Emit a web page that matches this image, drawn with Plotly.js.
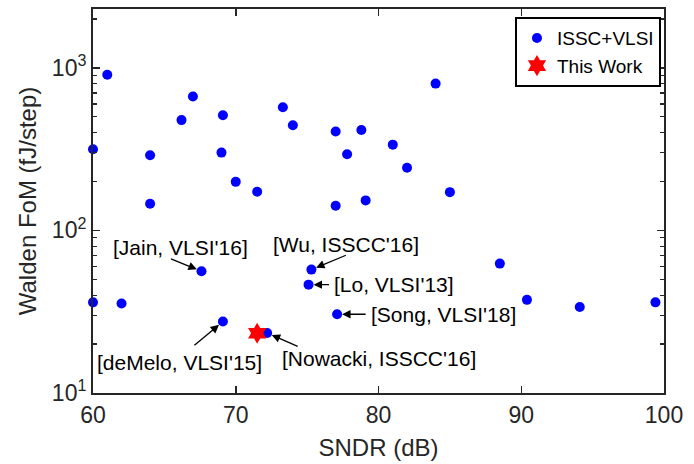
<!DOCTYPE html>
<html>
<head>
<meta charset="utf-8">
<script src="https://cdn.plot.ly/plotly-3.0.1.min.js"></script>
<style>html,body{margin:0;padding:0;background:#fff;}#chart{width:694px;height:464px;}</style>
</head>
<body>
<div id="chart"></div>
<script>
// ISSC+VLSI survey points
const sndr = [61.0, 60.0, 64.0, 64.0, 66.2, 67.0, 69.1, 69.0, 70.0, 71.5, 73.3, 74.0, 77.0, 77.8, 77.0, 78.8, 81.0, 82.0, 84.0, 85.0, 79.1,
              60.0, 62.0, 67.6, 69.1, 72.2, 75.3, 75.1, 77.1, 88.5, 90.4, 94.1, 99.4];
const fom  = [906, 316, 290, 146, 477, 666, 511, 301, 199, 173, 573, 444, 406, 294, 142, 415, 337, 243, 800, 172, 153,
              36.1, 35.5, 56.1, 27.5, 23.4, 57.4, 46.4, 30.5, 62.5, 37.4, 33.8, 36.1];
// This work
const thisSndr = [71.5];
const thisFom  = [23.3];
// Labelled references
const labelText  = ["[Jain, VLSI'16]", "[Wu, ISSCC'16]", "[Lo, VLSI'13]", "[Song, VLSI'18]", "[deMelo, VLSI'15]", "[Nowacki, ISSCC'16]"];
const labelIndex = [23, 26, 27, 28, 24, 25];
// Axis ticks
const xTicks = [60, 70, 80, 90, 100];
const yTicks = [10, 100, 1000];
const yTickText = ["10<sup>1</sup>", "10<sup>2</sup>", "10<sup>3</sup>"];
const yMinor = [20,30,40,50,60,70,80,90,200,300,400,500,600,700,800,900,2000];

// layout placement of the labels (text centre in data coords, arrow tail offset in px)
const labelPos = [
  {tx: 66.13, ty: 78.0,  ax: -32, ay: -13},
  {tx: 77.75, ty: 82.5,  ax: 36,  ay: -15},
  {tx: 81.1,  ty: 46.3,  ax: 22,  ay: 0},
  {tx: 84.53, ty: 30.6,  ax: 30,  ay: 0},
  {tx: 66.06, ty: 15.5,  ax: -30, ay: 25},
  {tx: 80.0,  ty: 16.2,  ax: 32,  ay: 14}
];

const FONT = 'Liberation Sans, Arial, Helvetica, sans-serif';
const AX = '#262626';

const traces = [
  {x: sndr, y: fom, type: 'scatter', mode: 'markers', name: 'ISSC+VLSI', cliponaxis: false,
   marker: {color: '#0000ff', size: 10, symbol: 'circle'}},
  {x: thisSndr, y: thisFom, type: 'scatter', mode: 'markers', name: 'This Work', cliponaxis: false,
   marker: {color: '#ff0000', size: 16, symbol: 'hexagram'}}
];

const annotations = [];
labelText.forEach((t, i) => {
  const k = labelIndex[i];
  const p = labelPos[i];
  annotations.push({x: sndr[k], y: Math.log10(fom[k]), xref: 'x', yref: 'y', text: '',
    showarrow: true, ax: p.ax, ay: p.ay, arrowhead: 2, arrowsize: 1.3, arrowwidth: 1.3,
    arrowcolor: '#000', standoff: 5});
  annotations.push({x: p.tx, y: Math.log10(p.ty), xref: 'x', yref: 'y', text: t,
    showarrow: false, xanchor: 'center', yanchor: 'middle', font: {family: FONT, size: 21, color: '#000'}});
});

const layout = {
  width: 694, height: 464,
  margin: {l: 93, r: 30, t: 9, b: 71, pad: 0},
  paper_bgcolor: '#fff', plot_bgcolor: '#fff',
  showlegend: true,
  legend: {x: 0.9947, y: 0.979, xanchor: 'right', yanchor: 'top', bgcolor: '#fff',
    bordercolor: '#000', borderwidth: 2, font: {family: FONT, size: 19, color: '#000'},
    itemwidth: 30, tracegroupgap: 0},
  xaxis: {range: [60, 100], tickvals: xTicks, ticktext: xTicks.map(String),
    showgrid: false, zeroline: false, showline: true, linecolor: AX, linewidth: 2,
    mirror: 'allticks', ticks: 'inside', ticklen: 7, tickwidth: 1.5, tickcolor: AX,
    tickfont: {family: FONT, size: 23, color: AX},
    title: {text: 'SNDR (dB)', font: {family: FONT, size: 24, color: AX}, standoff: 13}},
  yaxis: {type: 'log', range: [1, 3.362], tickvals: yTicks, ticktext: yTickText,
    showgrid: false, zeroline: false, showline: true, linecolor: AX, linewidth: 2,
    mirror: 'allticks', ticks: 'inside', ticklen: 7, tickwidth: 1.5, tickcolor: AX,
    minor: {tickvals: yMinor, ticks: 'inside', ticklen: 4, tickwidth: 1.2, tickcolor: AX, showgrid: false},
    tickfont: {family: FONT, size: 23, color: AX},
    title: {text: 'Walden FoM (fJ/step)', font: {family: FONT, size: 24, color: AX}, standoff: 8}},
  annotations: annotations
};

Plotly.newPlot('chart', traces, layout, {displayModeBar: false, staticPlot: true});
</script>
</body>
</html>
